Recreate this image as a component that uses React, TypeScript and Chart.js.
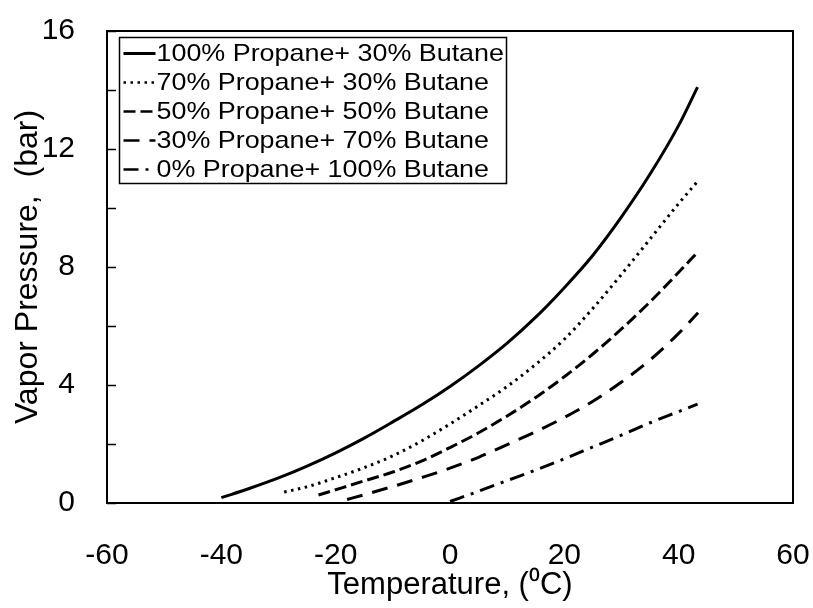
import React, { useEffect, useRef } from "react";
import { Chart, registerables } from "chart.js";

Chart.register(...registerables);

// ---- data ----
const seriesLabels = [
  "100% Propane+ 30% Butane",
  "70% Propane+ 30% Butane",
  "50% Propane+ 50% Butane",
  "30% Propane+ 70% Butane",
  "0% Propane+ 100% Butane",
];

const temp100 = [-40, -35, -30, -25, -20, -15, -10, -5, 0, 5, 10, 15, 20, 25, 30, 35, 40, 43.3];
const pres100 = [0.18, 0.5, 0.85, 1.25, 1.7, 2.2, 2.75, 3.32, 3.95, 4.65, 5.42, 6.3, 7.3, 8.4, 9.7, 11.15, 12.8, 14.1];

const temp70 = [-29, -25, -20, -15, -10, -5, 0, 5, 10, 15, 20, 25, 30, 35, 40, 43.3];
const pres70 = [0.37, 0.55, 0.86, 1.2, 1.6, 2.1, 2.68, 3.3, 3.95, 4.7, 5.55, 6.6, 7.75, 8.95, 10.15, 10.9];

const temp50 = [-23, -20, -15, -10, -5, 0, 5, 10, 15, 20, 25, 30, 35, 40, 43.4];
const pres50 = [0.27, 0.45, 0.75, 1.05, 1.42, 1.88, 2.38, 2.95, 3.58, 4.28, 5.05, 5.9, 6.82, 7.82, 8.52];

const temp30 = [-18, -15, -10, -5, 0, 5, 10, 15, 20, 25, 30, 35, 40, 43.4];
const pres30 = [0.12, 0.28, 0.56, 0.86, 1.18, 1.55, 1.98, 2.42, 2.9, 3.45, 4.1, 4.85, 5.75, 6.45];

const temp0 = [0, 5, 10, 15, 20, 25, 30, 35, 40, 43.3];
const pres0 = [0.05, 0.4, 0.76, 1.12, 1.5, 1.9, 2.3, 2.72, 3.1, 3.35];

const xTickValues = [-60, -40, -20, 0, 20, 40, 60];
const yLabelValues = [0, 4, 8, 12, 16];
const yMinorStep = 2;

const xTitle = "Temperature, (\u2070C)";
const yTitle = "Vapor Pressure,  (bar)";

// ---- styles ----
const FONT = "'Liberation Sans', Arial, Helvetica, sans-serif";
const dashes: number[][] = [[], [2.5, 4.5], [12, 5], [16, 10], [15, 7, 3, 7]];

const toPoints = (xs: number[], ys: number[]) => xs.map((x, i) => ({ x, y: ys[i] }));

const zeroPad = (s: any) => {
  s.paddingLeft = 0;
  s.paddingRight = 0;
  s.paddingTop = 0;
  s.paddingBottom = 0;
};

const framePlugin = {
  id: "frameAndTicks",
  afterDraw(chart: any) {
    const { ctx, chartArea: a, scales } = chart;
    ctx.save();
    ctx.strokeStyle = "#000";
    ctx.lineWidth = 2;
    ctx.strokeRect(a.left, a.top, a.right - a.left, a.bottom - a.top);
    const ys = scales.y;
    ctx.lineWidth = 1.5;
    for (const t of ys.ticks) {
      const py = Math.round(ys.getPixelForValue(t.value)) + 0.5;
      ctx.beginPath();
      ctx.moveTo(a.left, py);
      ctx.lineTo(a.left + 9, py);
      ctx.stroke();
    }
    ctx.restore();
  },
};

const legendPlugin = {
  id: "boxLegend",
  afterDraw(chart: any) {
    const { ctx, chartArea: a } = chart;
    const left = a.left + 12.5;
    const top = a.top + 6.5;
    const w = 387;
    const rowH = 29;
    const h = 146;
    ctx.save();
    ctx.fillStyle = "#fff";
    ctx.fillRect(left, top, w, h);
    ctx.strokeStyle = "#000";
    ctx.lineWidth = 1.5;
    ctx.strokeRect(left, top, w, h);
    chart.data.datasets.forEach((ds: any, i: number) => {
      const cy = top + 16 + i * rowH;
      ctx.save();
      ctx.strokeStyle = "#000";
      ctx.lineWidth = i === 0 ? 3 : 2.5;
      ctx.setLineDash(ds.borderDash || []);
      ctx.beginPath();
      ctx.moveTo(left + 4, cy);
      ctx.lineTo(left + 36, cy);
      ctx.stroke();
      ctx.restore();
      ctx.save();
      ctx.fillStyle = "#000";
      ctx.font = `24px ${FONT}`;
      ctx.textBaseline = "middle";
      ctx.textAlign = "left";
      ctx.translate(left + 37, cy);
      ctx.scale(1.12, 1);
      ctx.fillText(ds.label, 0, 1);
      ctx.restore();
    });
    ctx.restore();
  },
};

export default function App() {
  const ref = useRef<HTMLCanvasElement | null>(null);

  useEffect(() => {
    document.body.style.margin = "0";
    const canvas = ref.current;
    if (!canvas) return;
    const series = [
      toPoints(temp100, pres100),
      toPoints(temp70, pres70),
      toPoints(temp50, pres50),
      toPoints(temp30, pres30),
      toPoints(temp0, pres0),
    ];
    const chart = new Chart(canvas, {
      type: "line",
      data: {
        datasets: series.map((pts, i) => ({
          label: seriesLabels[i],
          data: pts,
          borderColor: "#000",
          backgroundColor: "#000",
          borderWidth: 3,
          borderDash: dashes[i],
          pointRadius: 0,
          fill: false,
          cubicInterpolationMode: "monotone" as const,
        })),
      },
      plugins: [framePlugin, legendPlugin],
      options: {
        animation: false,
        responsive: false,
        devicePixelRatio: 1,
        layout: { padding: { top: 31, right: 20, left: 0, bottom: 0 } },
        plugins: {
          legend: { display: false },
          tooltip: { enabled: false },
        },
        scales: {
          x: {
            type: "linear",
            min: -60,
            max: 60,
            afterBuildTicks: (s: any) => {
              s.ticks = xTickValues.map((v) => ({ value: v }));
            },
            afterFit: (s: any) => {
              s.height = 105;
              zeroPad(s);
            },
            grid: { display: false, drawTicks: false },
            border: { display: false },
            ticks: {
              color: "#000",
              padding: 35,
              font: { family: FONT, size: 30 },
              autoSkip: false,
              maxRotation: 0,
            },
            title: {
              display: true,
              text: xTitle,
              color: "#000",
              font: { family: FONT, size: 31 },
              padding: { top: 0, bottom: 4 },
            },
          },
          y: {
            type: "linear",
            min: 0,
            max: 16,
            ticks: {
              stepSize: yMinorStep,
              color: "#000",
              padding: 32,
              autoSkip: false,
              font: { family: FONT, size: 30 },
              callback: (v: any) => (yLabelValues.includes(Number(v)) ? String(v) : ""),
            },
            afterFit: (s: any) => {
              s.width = 107;
              zeroPad(s);
            },
            grid: { display: false, drawTicks: false },
            border: { display: false },
            title: {
              display: true,
              text: yTitle,
              color: "#000",
              font: { family: FONT, size: 32 },
              padding: { top: 9, bottom: 0 },
            },
          },
        },
      },
    });
    return () => chart.destroy();
  }, []);

  return (
    <div style={{ position: "fixed", left: 0, top: 0, width: 813, height: 608, background: "#fff" }}>
      <canvas ref={ref} width={813} height={608} style={{ display: "block" }} />
    </div>
  );
}
